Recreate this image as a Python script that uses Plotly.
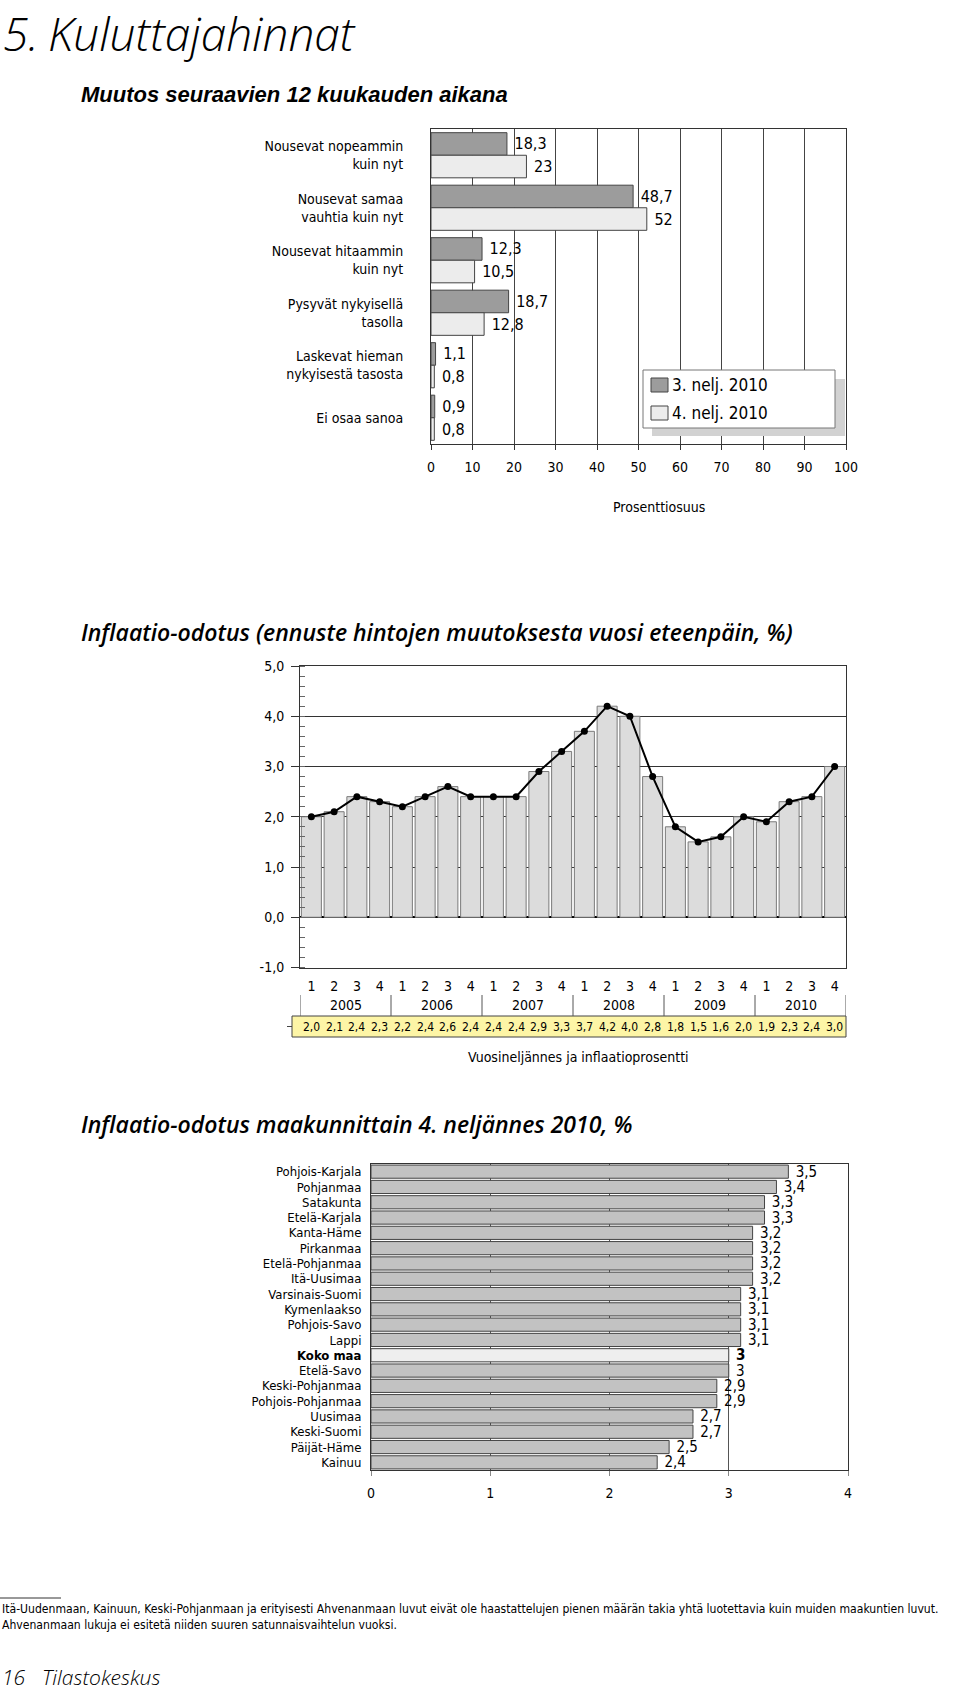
import plotly.graph_objects as go

W, H = 960, 1690
def px(x): return x / W
def py(y): return 1 - y / H

NARROW = "Liberation Sans Narrow, Arial Narrow, DejaVu Sans Condensed, sans-serif"
WIDE = "Open Sans, Lato, sans-serif"
NB = "\u00a0"

# ---------------- Chart 1 data ----------------
cat1 = ["Nousevat nopeammin<br>kuin nyt", "Nousevat samaa<br>vauhtia kuin nyt",
        "Nousevat hitaammin<br>kuin nyt", "Pysyvät nykyisellä<br>tasolla",
        "Laskevat hieman<br>nykyisestä tasosta", "Ei osaa sanoa"]
series1_names = ["3. nelj. 2010", "4. nelj. 2010"]
series1_colors = ["#9c9c9c", "#ececec"]
q3_2010 = [18.3, 48.7, 12.3, 18.7, 1.1, 0.9]
q4_2010 = [23, 52, 10.5, 12.8, 0.8, 0.8]

# ---------------- Chart 2 data ----------------
years = ["2005", "2006", "2007", "2008", "2009", "2010"]
quarters = ["1", "2", "3", "4"]
inflation = [2.0, 2.1, 2.4, 2.3, 2.2, 2.4, 2.6, 2.4, 2.4, 2.4, 2.9, 3.3,
             3.7, 4.2, 4.0, 2.8, 1.8, 1.5, 1.6, 2.0, 1.9, 2.3, 2.4, 3.0]
y2_ticks = [-1, 0, 1, 2, 3, 4, 5]

# ---------------- Chart 3 data ----------------
regions = ["Pohjois-Karjala", "Pohjanmaa", "Satakunta", "Etelä-Karjala", "Kanta-Häme",
           "Pirkanmaa", "Etelä-Pohjanmaa", "Itä-Uusimaa", "Varsinais-Suomi", "Kymenlaakso",
           "Pohjois-Savo", "Lappi", "Koko maa", "Etelä-Savo", "Keski-Pohjanmaa",
           "Pohjois-Pohjanmaa", "Uusimaa", "Keski-Suomi", "Päijät-Häme", "Kainuu"]
region_vals = [3.5, 3.4, 3.3, 3.3, 3.2, 3.2, 3.2, 3.2, 3.1, 3.1,
               3.1, 3.1, 3.0, 3.0, 2.9, 2.9, 2.7, 2.7, 2.5, 2.4]
total_name = "Koko maa"


def fi(v):
    return f"{v:g}".replace(".", ",")


def f1(v):
    return f"{v:.1f}".replace(".", ",")


fig = go.Figure()

# ---- Chart 1 ----
for vals, name, col, off in [(q3_2010, series1_names[0], series1_colors[0], -0.43),
                             (q4_2010, series1_names[1], series1_colors[1], 0.0)]:
    fig.add_trace(go.Bar(
        y=cat1, x=vals, orientation="h", name=name,
        marker=dict(color=col, line=dict(color="#444", width=1)),
        offset=off, width=0.43,
        text=[NB + fi(v) for v in vals], textposition="outside", constraintext="none",
        textfont=dict(size=16, color="black", family=NARROW), cliponaxis=False,
        xaxis="x", yaxis="y", showlegend=False, hoverinfo="skip"))

# ---- Chart 2 ----
xs = list(range(len(inflation)))
fig.add_trace(go.Bar(
    x=xs, y=inflation, width=0.88,
    marker=dict(color="#dcdcdc", line=dict(color="#7a7a7a", width=1)),
    xaxis="x2", yaxis="y2", showlegend=False, hoverinfo="skip"))
fig.add_trace(go.Scatter(
    x=xs, y=inflation, mode="lines+markers",
    line=dict(color="black", width=2), marker=dict(color="black", size=7),
    xaxis="x2", yaxis="y2", showlegend=False, hoverinfo="skip"))

# ---- Chart 3 ----
region_labels = [f"<b>{r}</b>" if r == total_name else r for r in regions]
fig.add_trace(go.Bar(
    y=region_labels, x=region_vals, orientation="h", width=0.86,
    marker=dict(color=["#eeeeee" if r == total_name else "#c2c2c2" for r in regions],
                line=dict(color="#444", width=1)),
    text=[NB + (f"<b>{fi(v)}</b>" if r == total_name else fi(v))
          for r, v in zip(regions, region_vals)],
    textposition="outside", constraintext="none", cliponaxis=False,
    textfont=dict(size=15, color="black", family=NARROW),
    xaxis="x3", yaxis="y3", showlegend=False, hoverinfo="skip"))

annotations = []
shapes = []

def ann(text, x, y, size, family=NARROW, xanchor="left", yanchor="middle",
        xref="paper", weight="normal", style="normal", color="black"):
    annotations.append(dict(text=text, x=x, y=y, xref=xref, yref="paper",
                            xanchor=xanchor, yanchor=yanchor, showarrow=False,
                            font=dict(size=size, family=family, color=color,
                                      weight=weight, style=style)))

# page titles
ann("5.", px(1), 1.0, 46, family=WIDE, weight=300, style="italic", yanchor="top")
ann("Kuluttajahinnat", px(46), 1.0, 46, family=WIDE, weight=300, style="italic", yanchor="top")
ann("Muutos seuraavien 12 kuukauden aikana", px(79), py(95), 22,
    family="Liberation Sans, Arial, sans-serif", weight="bold", style="italic")
ann("Inflaatio-odotus (ennuste hintojen muutoksesta vuosi eteenpäin, %)", px(79), py(632), 23,
    family=WIDE, weight=600, style="italic")
ann("Inflaatio-odotus maakunnittain 4. neljännes 2010, %", px(79), py(1124), 23,
    family=WIDE, weight=600, style="italic")

# chart 1 axis title
ann("Prosenttiosuus", px(659), py(507), 14, xanchor="center")

# chart 1 legend (shadow, box, swatches, labels)
shapes.append(dict(type="rect", xref="paper", yref="paper",
                   x0=px(652), x1=px(845), y0=py(436), y1=py(379),
                   fillcolor="#d2d2d2", line=dict(width=0), layer="above"))
shapes.append(dict(type="rect", xref="paper", yref="paper",
                   x0=px(643), x1=px(835), y0=py(428), y1=py(370),
                   fillcolor="white", line=dict(color="#777", width=1), layer="above"))
for i, (name, col) in enumerate(zip(series1_names, series1_colors)):
    yc = 385 + 28 * i
    shapes.append(dict(type="rect", xref="paper", yref="paper",
                       x0=px(651), x1=px(668), y0=py(yc + 7), y1=py(yc - 7),
                       fillcolor=col, line=dict(color="#444", width=1), layer="above"))
    ann(name, px(670), py(yc), 17)

# chart 2: years, separators, data table
for i, yr in enumerate(years):
    ann(yr, 1.5 + 4 * i, py(1005), 14, xref="x2", xanchor="center")
for i in range(len(years) + 1):
    shapes.append(dict(type="line", xref="x2", yref="paper",
                       x0=-0.5 + 4 * i, x1=-0.5 + 4 * i, y0=py(995), y1=py(1016),
                       line=dict(color="#555", width=1)))
shapes.append(dict(type="rect", xref="paper", yref="paper",
                   x0=px(292), x1=px(846), y0=py(1037), y1=py(1016),
                   fillcolor="#fdf5a6", line=dict(color="#444", width=1), layer="below"))
shapes.append(dict(type="line", xref="paper", yref="paper",
                   x0=px(287), x1=px(292), y0=py(1026.5), y1=py(1026.5),
                   line=dict(color="#444", width=1)))
for i, v in enumerate(inflation):
    ann(f1(v), i, py(1026.5), 12, xref="x2", xanchor="center")
ann("Vuosineljännes ja inflaatioprosentti", px(578), py(1057), 14, xanchor="center")

# footnote
shapes.append(dict(type="line", xref="paper", yref="paper",
                   x0=0, x1=px(61), y0=py(1598), y1=py(1598),
                   line=dict(color="#333", width=1)))
ann("Itä-Uudenmaan, Kainuun, Keski-Pohjanmaan ja erityisesti Ahvenanmaan luvut eivät ole "
    "haastattelujen pienen määrän takia yhtä luotettavia kuin muiden maakuntien luvut.",
    px(0), py(1609), 12.1)
ann("Ahvenanmaan lukuja ei esitetä niiden suuren satunnaisvaihtelun vuoksi.",
    px(0), py(1625), 12.1)

# footer
ann("16", px(0), py(1677), 21, family=WIDE, weight=300, style="italic")
ann("Tilastokeskus", px(40), py(1677), 21, family=WIDE, weight=300, style="italic")

axis_line = "#333"
fig.update_layout(
    width=W, height=H, margin=dict(l=0, r=0, t=0, b=0, pad=0, autoexpand=False),
    paper_bgcolor="white", plot_bgcolor="white", showlegend=False,
    font=dict(family=NARROW, size=14, color="black"),
    bargap=0.12, bargroupgap=0,
    xaxis=dict(domain=[px(431), px(846)], range=[0, 100], dtick=10, anchor="y",
               automargin=False,
               showgrid=True, gridcolor="#444", gridwidth=1, zeroline=False,
               ticks="outside", ticklen=5, tickcolor=axis_line, ticklabelstandoff=5,
               showline=True, linecolor=axis_line, mirror=True, tickfont=dict(size=14)),
    yaxis=dict(domain=[py(444), py(129)], anchor="x", autorange="reversed",
               automargin=False,
               categoryorder="array", categoryarray=cat1,
               ticks="", ticklabelstandoff=24, showline=True, linecolor=axis_line,
               mirror=True, tickfont=dict(size=14), showgrid=False),
    xaxis2=dict(domain=[px(300), px(846)], range=[-0.5, 23.5], anchor="y2",
                automargin=False,
                tickmode="array", tickvals=xs, ticktext=quarters * len(years),
                ticks="", ticklabelstandoff=6, showgrid=False, zeroline=False,
                showline=True, linecolor=axis_line, mirror=True, tickfont=dict(size=14)),
    yaxis2=dict(domain=[py(967.5), py(666)], range=[-1, 5], anchor="x2",
                automargin=False,
                tickmode="array", tickvals=y2_ticks, ticktext=[f1(v) for v in y2_ticks],
                ticks="outside", ticklen=8, tickcolor=axis_line, ticklabelstandoff=4,
                minor=dict(dtick=0.2, ticks="inside", ticklen=5, tickcolor="#666",
                           showgrid=False),
                showgrid=True, gridcolor="#333", gridwidth=1,
                zeroline=True, zerolinecolor="black", zerolinewidth=1.5,
                showline=True, linecolor=axis_line, mirror=True, tickfont=dict(size=14)),
    xaxis3=dict(domain=[px(371), px(848)], range=[0, 4], dtick=1, anchor="y3",
                automargin=False,
                showgrid=True, gridcolor="#555", gridwidth=1, zeroline=False,
                ticks="outside", ticklen=5, tickcolor="#888", ticklabelstandoff=5,
                showline=True, linecolor=axis_line, mirror=True, tickfont=dict(size=14)),
    yaxis3=dict(domain=[py(1470), py(1164)], anchor="x3", autorange="reversed",
                automargin=False,
                tickmode="array", tickvals=region_labels, ticktext=region_labels,
                categoryorder="array", categoryarray=region_labels,
                ticks="", ticklabelstandoff=6, showline=True, linecolor=axis_line,
                mirror=True, tickfont=dict(size=13), showgrid=False),
    annotations=annotations, shapes=shapes,
)

fig.write_html("out.html")
